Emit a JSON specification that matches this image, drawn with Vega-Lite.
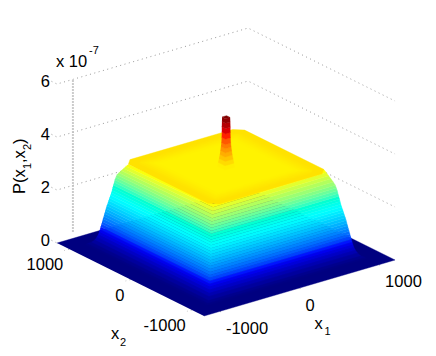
{"$schema":"https://vega.github.io/schema/vega-lite/v6.json","width":436,"height":356,"padding":0,"autosize":"none","background":"white","config":{"view":{"stroke":null}},
"datasets":{
"grid":[
{"l":"p6","P":6,"x1":-1200,"x2":1290},{"l":"p6","P":6,"x1":-1200,"x2":1200},{"l":"p6","P":6,"x1":1200,"x2":1200},{"l":"p6","P":6,"x1":1200,"x2":-1200},
{"l":"p4","P":4,"x1":-1200,"x2":1290},{"l":"p4","P":4,"x1":-1200,"x2":1200},{"l":"p4","P":4,"x1":1200,"x2":1200},{"l":"p4","P":4,"x1":1200,"x2":-1200},
{"l":"p2","P":2,"x1":-1200,"x2":1290},{"l":"p2","P":2,"x1":-1200,"x2":1200},{"l":"p2","P":2,"x1":1200,"x2":1200},{"l":"p2","P":2,"x1":1200,"x2":-1200},
{"l":"p0","P":0,"x1":-1200,"x2":1290},{"l":"p0","P":0,"x1":-1200,"x2":1200},
{"l":"a","P":0,"x1":-1200,"x2":1000},{"l":"a","P":0,"x1":-1260,"x2":1000},
{"l":"b","P":0,"x1":-1200,"x2":0},{"l":"b","P":0,"x1":-1260,"x2":0},
{"l":"c","P":0,"x1":-1200,"x2":-1000},{"l":"c","P":0,"x1":-1260,"x2":-1000},
{"l":"d","P":0,"x1":-1000,"x2":-1200},{"l":"d","P":0,"x1":-1000,"x2":-1260},
{"l":"e","P":0,"x1":0,"x2":-1200},{"l":"e","P":0,"x1":0,"x2":-1260},
{"l":"f","P":0,"x1":1000,"x2":-1200},{"l":"f","P":0,"x1":1000,"x2":-1260}],
"wall":[{"P":0.25,"x1":-1000,"x2":1200},{"P":6,"x1":-1000,"x2":1200}],
"surface":[
{"b":0,"P":0,"x1":-1200,"x2":1200},{"b":0,"P":0,"x1":1200,"x2":1200},{"b":0,"P":0,"x1":1200,"x2":-1200},{"b":0,"P":0,"x1":-1200,"x2":-1200},
{"b":0.02,"P":0,"x1":-1000,"x2":1000},{"b":0.02,"P":0,"x1":-1000,"x2":-1000},{"b":0.02,"P":0,"x1":1000,"x2":-1000},{"b":0.02,"P":0.05,"x1":985,"x2":-985},{"b":0.02,"P":0.05,"x1":-985,"x2":-985},{"b":0.02,"P":0.05,"x1":-985,"x2":985},
{"b":0.07,"P":0.05,"x1":-985,"x2":985},{"b":0.07,"P":0.05,"x1":-985,"x2":-985},{"b":0.07,"P":0.05,"x1":985,"x2":-985},{"b":0.07,"P":0.1,"x1":955,"x2":-955},{"b":0.07,"P":0.1,"x1":-955,"x2":-955},{"b":0.07,"P":0.1,"x1":-955,"x2":955},
{"b":0.15,"P":0.1,"x1":-955,"x2":955},{"b":0.15,"P":0.1,"x1":-955,"x2":-955},{"b":0.15,"P":0.1,"x1":955,"x2":-955},{"b":0.15,"P":0.2,"x1":932,"x2":-932},{"b":0.15,"P":0.2,"x1":-932,"x2":-932},{"b":0.15,"P":0.2,"x1":-932,"x2":932},
{"b":0.25,"P":0.2,"x1":-932,"x2":932},{"b":0.25,"P":0.2,"x1":-932,"x2":-932},{"b":0.25,"P":0.2,"x1":932,"x2":-932},{"b":0.25,"P":0.3,"x1":918,"x2":-918},{"b":0.25,"P":0.3,"x1":-918,"x2":-918},{"b":0.25,"P":0.3,"x1":-918,"x2":918},
{"b":0.35,"P":0.3,"x1":-918,"x2":918},{"b":0.35,"P":0.3,"x1":-918,"x2":-918},{"b":0.35,"P":0.3,"x1":918,"x2":-918},{"b":0.35,"P":0.4,"x1":908,"x2":-908},{"b":0.35,"P":0.4,"x1":-908,"x2":-908},{"b":0.35,"P":0.4,"x1":-908,"x2":908},
{"b":0.45,"P":0.4,"x1":-908,"x2":908},{"b":0.45,"P":0.4,"x1":-908,"x2":-908},{"b":0.45,"P":0.4,"x1":908,"x2":-908},{"b":0.45,"P":0.5,"x1":901,"x2":-901},{"b":0.45,"P":0.5,"x1":-901,"x2":-901},{"b":0.45,"P":0.5,"x1":-901,"x2":901},
{"b":0.55,"P":0.5,"x1":-901,"x2":901},{"b":0.55,"P":0.5,"x1":-901,"x2":-901},{"b":0.55,"P":0.5,"x1":901,"x2":-901},{"b":0.55,"P":0.6,"x1":895,"x2":-895},{"b":0.55,"P":0.6,"x1":-895,"x2":-895},{"b":0.55,"P":0.6,"x1":-895,"x2":895},
{"b":0.65,"P":0.6,"x1":-895,"x2":895},{"b":0.65,"P":0.6,"x1":-895,"x2":-895},{"b":0.65,"P":0.6,"x1":895,"x2":-895},{"b":0.65,"P":0.7,"x1":890,"x2":-890},{"b":0.65,"P":0.7,"x1":-890,"x2":-890},{"b":0.65,"P":0.7,"x1":-890,"x2":890},
{"b":0.75,"P":0.7,"x1":-890,"x2":890},{"b":0.75,"P":0.7,"x1":-890,"x2":-890},{"b":0.75,"P":0.7,"x1":890,"x2":-890},{"b":0.75,"P":0.8,"x1":884,"x2":-884},{"b":0.75,"P":0.8,"x1":-884,"x2":-884},{"b":0.75,"P":0.8,"x1":-884,"x2":884},
{"b":0.85,"P":0.8,"x1":-884,"x2":884},{"b":0.85,"P":0.8,"x1":-884,"x2":-884},{"b":0.85,"P":0.8,"x1":884,"x2":-884},{"b":0.85,"P":0.9,"x1":879,"x2":-879},{"b":0.85,"P":0.9,"x1":-879,"x2":-879},{"b":0.85,"P":0.9,"x1":-879,"x2":879},
{"b":0.95,"P":0.9,"x1":-879,"x2":879},{"b":0.95,"P":0.9,"x1":-879,"x2":-879},{"b":0.95,"P":0.9,"x1":879,"x2":-879},{"b":0.95,"P":1.0,"x1":874,"x2":-874},{"b":0.95,"P":1.0,"x1":-874,"x2":-874},{"b":0.95,"P":1.0,"x1":-874,"x2":874},
{"b":1.05,"P":1.0,"x1":-874,"x2":874},{"b":1.05,"P":1.0,"x1":-874,"x2":-874},{"b":1.05,"P":1.0,"x1":874,"x2":-874},{"b":1.05,"P":1.1,"x1":868,"x2":-868},{"b":1.05,"P":1.1,"x1":-868,"x2":-868},{"b":1.05,"P":1.1,"x1":-868,"x2":868},
{"b":1.15,"P":1.1,"x1":-868,"x2":868},{"b":1.15,"P":1.1,"x1":-868,"x2":-868},{"b":1.15,"P":1.1,"x1":868,"x2":-868},{"b":1.15,"P":1.2,"x1":863,"x2":-863},{"b":1.15,"P":1.2,"x1":-863,"x2":-863},{"b":1.15,"P":1.2,"x1":-863,"x2":863},
{"b":1.25,"P":1.2,"x1":-863,"x2":863},{"b":1.25,"P":1.2,"x1":-863,"x2":-863},{"b":1.25,"P":1.2,"x1":863,"x2":-863},{"b":1.25,"P":1.3,"x1":858,"x2":-858},{"b":1.25,"P":1.3,"x1":-858,"x2":-858},{"b":1.25,"P":1.3,"x1":-858,"x2":858},
{"b":1.35,"P":1.3,"x1":-858,"x2":858},{"b":1.35,"P":1.3,"x1":-858,"x2":-858},{"b":1.35,"P":1.3,"x1":858,"x2":-858},{"b":1.35,"P":1.4,"x1":853,"x2":-853},{"b":1.35,"P":1.4,"x1":-853,"x2":-853},{"b":1.35,"P":1.4,"x1":-853,"x2":853},
{"b":1.45,"P":1.4,"x1":-853,"x2":853},{"b":1.45,"P":1.4,"x1":-853,"x2":-853},{"b":1.45,"P":1.4,"x1":853,"x2":-853},{"b":1.45,"P":1.5,"x1":847,"x2":-847},{"b":1.45,"P":1.5,"x1":-847,"x2":-847},{"b":1.45,"P":1.5,"x1":-847,"x2":847},
{"b":1.55,"P":1.5,"x1":-847,"x2":847},{"b":1.55,"P":1.5,"x1":-847,"x2":-847},{"b":1.55,"P":1.5,"x1":847,"x2":-847},{"b":1.55,"P":1.6,"x1":840,"x2":-840},{"b":1.55,"P":1.6,"x1":-840,"x2":-840},{"b":1.55,"P":1.6,"x1":-840,"x2":840},
{"b":1.65,"P":1.6,"x1":-840,"x2":840},{"b":1.65,"P":1.6,"x1":-840,"x2":-840},{"b":1.65,"P":1.6,"x1":840,"x2":-840},{"b":1.65,"P":1.7,"x1":834,"x2":-834},{"b":1.65,"P":1.7,"x1":-834,"x2":-834},{"b":1.65,"P":1.7,"x1":-834,"x2":834},
{"b":1.75,"P":1.7,"x1":-834,"x2":834},{"b":1.75,"P":1.7,"x1":-834,"x2":-834},{"b":1.75,"P":1.7,"x1":834,"x2":-834},{"b":1.75,"P":1.8,"x1":828,"x2":-828},{"b":1.75,"P":1.8,"x1":-828,"x2":-828},{"b":1.75,"P":1.8,"x1":-828,"x2":828},
{"b":1.85,"P":1.8,"x1":-828,"x2":828},{"b":1.85,"P":1.8,"x1":-828,"x2":-828},{"b":1.85,"P":1.8,"x1":828,"x2":-828},{"b":1.85,"P":1.9,"x1":821,"x2":-821},{"b":1.85,"P":1.9,"x1":-821,"x2":-821},{"b":1.85,"P":1.9,"x1":-821,"x2":821},
{"b":1.95,"P":1.9,"x1":-821,"x2":821},{"b":1.95,"P":1.9,"x1":-821,"x2":-821},{"b":1.95,"P":1.9,"x1":821,"x2":-821},{"b":1.95,"P":2.0,"x1":815,"x2":-815},{"b":1.95,"P":2.0,"x1":-815,"x2":-815},{"b":1.95,"P":2.0,"x1":-815,"x2":815},
{"b":2.05,"P":2.0,"x1":-815,"x2":815},{"b":2.05,"P":2.0,"x1":-815,"x2":-815},{"b":2.05,"P":2.0,"x1":815,"x2":-815},{"b":2.05,"P":2.1,"x1":810,"x2":-810},{"b":2.05,"P":2.1,"x1":-810,"x2":-810},{"b":2.05,"P":2.1,"x1":-810,"x2":810},
{"b":2.15,"P":2.1,"x1":-810,"x2":810},{"b":2.15,"P":2.1,"x1":-810,"x2":-810},{"b":2.15,"P":2.1,"x1":810,"x2":-810},{"b":2.15,"P":2.2,"x1":805,"x2":-805},{"b":2.15,"P":2.2,"x1":-805,"x2":-805},{"b":2.15,"P":2.2,"x1":-805,"x2":805},
{"b":2.25,"P":2.2,"x1":-805,"x2":805},{"b":2.25,"P":2.2,"x1":-805,"x2":-805},{"b":2.25,"P":2.2,"x1":805,"x2":-805},{"b":2.25,"P":2.3,"x1":800,"x2":-800},{"b":2.25,"P":2.3,"x1":-800,"x2":-800},{"b":2.25,"P":2.3,"x1":-800,"x2":800},
{"b":2.35,"P":2.3,"x1":-800,"x2":800},{"b":2.35,"P":2.3,"x1":-800,"x2":-800},{"b":2.35,"P":2.3,"x1":800,"x2":-800},{"b":2.35,"P":2.4,"x1":795,"x2":-795},{"b":2.35,"P":2.4,"x1":-795,"x2":-795},{"b":2.35,"P":2.4,"x1":-795,"x2":795},
{"b":2.45,"P":2.4,"x1":-795,"x2":795},{"b":2.45,"P":2.4,"x1":-795,"x2":-795},{"b":2.45,"P":2.4,"x1":795,"x2":-795},{"b":2.45,"P":2.5,"x1":790,"x2":-790},{"b":2.45,"P":2.5,"x1":-790,"x2":-790},{"b":2.45,"P":2.5,"x1":-790,"x2":790},
{"b":2.55,"P":2.5,"x1":-790,"x2":790},{"b":2.55,"P":2.5,"x1":-790,"x2":-790},{"b":2.55,"P":2.5,"x1":790,"x2":-790},{"b":2.55,"P":2.6,"x1":785,"x2":-780},{"b":2.55,"P":2.6,"x1":-782,"x2":-782},{"b":2.55,"P":2.6,"x1":-785,"x2":780},
{"b":2.65,"P":2.6,"x1":-785,"x2":780},{"b":2.65,"P":2.6,"x1":-782,"x2":-782},{"b":2.65,"P":2.6,"x1":785,"x2":-780},{"b":2.65,"P":2.7,"x1":780,"x2":-770},{"b":2.65,"P":2.7,"x1":-775,"x2":-775},{"b":2.65,"P":2.7,"x1":-780,"x2":770},
{"b":2.75,"P":2.7,"x1":-780,"x2":770},{"b":2.75,"P":2.7,"x1":-775,"x2":-775},{"b":2.75,"P":2.7,"x1":780,"x2":-770},{"b":2.75,"P":2.8,"x1":772,"x2":-747},{"b":2.75,"P":2.8,"x1":-760,"x2":-760},{"b":2.75,"P":2.8,"x1":-772,"x2":747},
{"b":2.85,"P":2.8,"x1":-772,"x2":747},{"b":2.85,"P":2.8,"x1":-760,"x2":-760},{"b":2.85,"P":2.8,"x1":772,"x2":-747},{"b":2.85,"P":2.9,"x1":762,"x2":-722},{"b":2.85,"P":2.9,"x1":-742,"x2":-742},{"b":2.85,"P":2.9,"x1":-762,"x2":722},
{"b":2.95,"P":2.9,"x1":-762,"x2":722},{"b":2.95,"P":2.9,"x1":-742,"x2":-742},{"b":2.95,"P":2.9,"x1":762,"x2":-722},{"b":2.95,"P":3.0,"x1":752,"x2":-697},{"b":2.95,"P":3.0,"x1":-725,"x2":-725},{"b":2.95,"P":3.0,"x1":-752,"x2":697},
{"b":3.05,"P":3.0,"x1":-752,"x2":697},{"b":3.05,"P":3.0,"x1":-725,"x2":-725},{"b":3.05,"P":3.0,"x1":752,"x2":-697},{"b":3.05,"P":3.1,"x1":742,"x2":-672},{"b":3.05,"P":3.1,"x1":-707,"x2":-707},{"b":3.05,"P":3.1,"x1":-742,"x2":672},
{"b":3.15,"P":3.1,"x1":-742,"x2":672},{"b":3.15,"P":3.1,"x1":-707,"x2":-707},{"b":3.15,"P":3.1,"x1":742,"x2":-672},{"b":3.15,"P":3.2,"x1":730,"x2":-645},{"b":3.15,"P":3.2,"x1":-688,"x2":-688},{"b":3.15,"P":3.2,"x1":-730,"x2":645},
{"b":3.37,"P":3.2,"x1":-730,"x2":645},{"b":3.37,"P":3.2,"x1":-645,"x2":730},{"b":3.37,"P":3.2,"x1":645,"x2":730},{"b":3.37,"P":3.2,"x1":730,"x2":645},{"b":3.37,"P":3.2,"x1":730,"x2":-645},{"b":3.37,"P":3.2,"x1":645,"x2":-730},{"b":3.37,"P":3.2,"x1":-645,"x2":-730},{"b":3.37,"P":3.2,"x1":-730,"x2":-645},
{"b":3.35,"P":3.2,"x1":-640,"x2":580},{"b":3.35,"P":3.2,"x1":-580,"x2":640},{"b":3.35,"P":3.2,"x1":580,"x2":640},{"b":3.35,"P":3.2,"x1":640,"x2":580},{"b":3.35,"P":3.2,"x1":640,"x2":-580},{"b":3.35,"P":3.2,"x1":580,"x2":-640},{"b":3.35,"P":3.2,"x1":-580,"x2":-640},{"b":3.35,"P":3.2,"x1":-640,"x2":-580},
{"b":3.33,"P":3.2,"x1":-610,"x2":610},{"b":3.33,"P":3.2,"x1":610,"x2":610},{"b":3.33,"P":3.2,"x1":610,"x2":-610},{"b":3.33,"P":3.2,"x1":-610,"x2":-610},
{"b":3.31,"P":3.2,"x1":-580,"x2":580},{"b":3.31,"P":3.2,"x1":580,"x2":580},{"b":3.31,"P":3.2,"x1":580,"x2":-580},{"b":3.31,"P":3.2,"x1":-580,"x2":-580},
{"b":3.29,"P":3.2,"x1":-550,"x2":550},{"b":3.29,"P":3.2,"x1":550,"x2":550},{"b":3.29,"P":3.2,"x1":550,"x2":-550},{"b":3.29,"P":3.2,"x1":-550,"x2":-550},
{"b":3.27,"P":3.2,"x1":-520,"x2":520},{"b":3.27,"P":3.2,"x1":520,"x2":520},{"b":3.27,"P":3.2,"x1":520,"x2":-520},{"b":3.27,"P":3.2,"x1":-520,"x2":-520},
{"b":3.255,"P":3.2,"x1":-480,"x2":480},{"b":3.255,"P":3.2,"x1":480,"x2":480},{"b":3.255,"P":3.2,"x1":480,"x2":-480},{"b":3.255,"P":3.2,"x1":-480,"x2":-480},
{"b":3.28,"P":3.2,"x1":-62,"x2":62},{"b":3.28,"P":3.2,"x1":-62,"x2":-62},{"b":3.28,"P":3.2,"x1":62,"x2":-62},{"b":3.28,"P":3.35,"x1":56,"x2":-56},{"b":3.28,"P":3.35,"x1":-56,"x2":-56},{"b":3.28,"P":3.35,"x1":-56,"x2":56},
{"b":3.42,"P":3.35,"x1":-56,"x2":56},{"b":3.42,"P":3.35,"x1":-56,"x2":-56},{"b":3.42,"P":3.35,"x1":56,"x2":-56},{"b":3.42,"P":3.5,"x1":50,"x2":-50},{"b":3.42,"P":3.5,"x1":-50,"x2":-50},{"b":3.42,"P":3.5,"x1":-50,"x2":50},
{"b":3.57,"P":3.5,"x1":-50,"x2":50},{"b":3.57,"P":3.5,"x1":-50,"x2":-50},{"b":3.57,"P":3.5,"x1":50,"x2":-50},{"b":3.57,"P":3.65,"x1":44,"x2":-44},{"b":3.57,"P":3.65,"x1":-44,"x2":-44},{"b":3.57,"P":3.65,"x1":-44,"x2":44},
{"b":3.72,"P":3.65,"x1":-44,"x2":44},{"b":3.72,"P":3.65,"x1":-44,"x2":-44},{"b":3.72,"P":3.65,"x1":44,"x2":-44},{"b":3.72,"P":3.8,"x1":40,"x2":-40},{"b":3.72,"P":3.8,"x1":-40,"x2":-40},{"b":3.72,"P":3.8,"x1":-40,"x2":40},
{"b":3.87,"P":3.8,"x1":-40,"x2":40},{"b":3.87,"P":3.8,"x1":-40,"x2":-40},{"b":3.87,"P":3.8,"x1":40,"x2":-40},{"b":3.87,"P":3.95,"x1":36,"x2":-36},{"b":3.87,"P":3.95,"x1":-36,"x2":-36},{"b":3.87,"P":3.95,"x1":-36,"x2":36},
{"b":4.02,"P":3.95,"x1":-36,"x2":36},{"b":4.02,"P":3.95,"x1":-36,"x2":-36},{"b":4.02,"P":3.95,"x1":36,"x2":-36},{"b":4.02,"P":4.1,"x1":33,"x2":-33},{"b":4.02,"P":4.1,"x1":-33,"x2":-33},{"b":4.02,"P":4.1,"x1":-33,"x2":33},
{"b":4.2,"P":4.1,"x1":-33,"x2":33},{"b":4.2,"P":4.1,"x1":-33,"x2":-33},{"b":4.2,"P":4.1,"x1":33,"x2":-33},{"b":4.2,"P":4.3,"x1":31,"x2":-31},{"b":4.2,"P":4.3,"x1":-31,"x2":-31},{"b":4.2,"P":4.3,"x1":-31,"x2":31},
{"b":4.4,"P":4.3,"x1":-31,"x2":31},{"b":4.4,"P":4.3,"x1":-31,"x2":-31},{"b":4.4,"P":4.3,"x1":31,"x2":-31},{"b":4.4,"P":4.5,"x1":30,"x2":-30},{"b":4.4,"P":4.5,"x1":-30,"x2":-30},{"b":4.4,"P":4.5,"x1":-30,"x2":30},
{"b":4.6,"P":4.5,"x1":-30,"x2":30},{"b":4.6,"P":4.5,"x1":-30,"x2":-30},{"b":4.6,"P":4.5,"x1":30,"x2":-30},{"b":4.6,"P":4.7,"x1":30,"x2":-30},{"b":4.6,"P":4.7,"x1":-30,"x2":-30},{"b":4.6,"P":4.7,"x1":-30,"x2":30},
{"b":4.8,"P":4.7,"x1":-30,"x2":30},{"b":4.8,"P":4.7,"x1":-30,"x2":-30},{"b":4.8,"P":4.7,"x1":30,"x2":-30},{"b":4.8,"P":4.9,"x1":29,"x2":-29},{"b":4.8,"P":4.9,"x1":-29,"x2":-29},{"b":4.8,"P":4.9,"x1":-29,"x2":29},
{"b":4.98,"P":4.9,"x1":-29,"x2":29},{"b":4.98,"P":4.9,"x1":-29,"x2":-29},{"b":4.98,"P":4.9,"x1":29,"x2":-29},{"b":4.98,"P":5.07,"x1":28,"x2":-28},{"b":4.98,"P":5.07,"x1":-28,"x2":-28},{"b":4.98,"P":5.07,"x1":-28,"x2":28},
{"b":5.07,"P":5.07,"x1":-28,"x2":28},{"b":5.07,"P":5.07,"x1":28,"x2":28},{"b":5.07,"P":5.07,"x1":28,"x2":-28},{"b":5.07,"P":5.07,"x1":-28,"x2":-28}],
"labels":[
{"g":"z","t":"6","P":6,"x1":-1200,"x2":1200},{"g":"z","t":"4","P":4,"x1":-1200,"x2":1200},{"g":"z","t":"2","P":2,"x1":-1200,"x2":1200},{"g":"z","t":"0","P":0,"x1":-1200,"x2":1200},
{"g":"b","t":"1000","P":0,"x1":-1200,"x2":1000},{"g":"b","t":"0","P":0,"x1":-1200,"x2":0},{"g":"b","t":"-1000","P":0,"x1":-1200,"x2":-1000},
{"g":"a","t":"-1000","P":0,"x1":-1000,"x2":-1200},{"g":"a","t":"0","P":0,"x1":0,"x2":-1200},{"g":"a","t":"1000","P":0,"x1":1000,"x2":-1200},
{"g":"e","t":"x 10","P":6,"x1":-1200,"x2":1200},{"g":"f","t":"-7","P":6,"x1":-1200,"x2":1200},
{"g":"t1","t":"x","P":0,"x1":0,"x2":-1200},{"g":"s1","t":"1","P":0,"x1":0,"x2":-1200},
{"g":"t2","t":"x","P":0,"x1":-1200,"x2":0},{"g":"s2","t":"2","P":0,"x1":-1200,"x2":0},
{"g":"v","t":"P(x","P":2,"x1":-1200,"x2":1200},{"g":"w","t":"1","P":2,"x1":-1200,"x2":1200},{"g":"u","t":",x","P":2,"x1":-1200,"x2":1200},{"g":"y","t":"2","P":2,"x1":-1200,"x2":1200},{"g":"q","t":")","P":2,"x1":-1200,"x2":1200}]
},
"encoding":{"x":{"field":"sx","type":"quantitative","axis":null,"scale":{"domain":[0,436],"nice":false,"zero":false}},"y":{"field":"sy","type":"quantitative","axis":null,"scale":{"domain":[356,0],"nice":false,"zero":false}}},
"layer":[
{"data":{"name":"grid"},"transform":[{"calculate":"204+0.0796*(datum.x1+1200)-0.06125*(datum.x2+1200)","as":"sx"},{"calculate":"316-0.02333*(datum.x1+1200)-0.0304*(datum.x2+1200)-26.5*datum.P","as":"sy"}],"mark":{"type":"line","stroke":"#999999","strokeWidth":1,"strokeDash":[1,3.5]},"encoding":{"detail":{"field":"l"},"order":{"value":null}}},
{"data":{"name":"wall"},"transform":[{"calculate":"204+0.0796*(datum.x1+1200)-0.06125*(datum.x2+1200)","as":"sx"},{"calculate":"316-0.02333*(datum.x1+1200)-0.0304*(datum.x2+1200)-26.5*datum.P","as":"sy"}],"mark":{"type":"line","stroke":"#bbbbbb","strokeWidth":2,"strokeDash":[1.5,1.5]},"encoding":{"order":{"value":null}}},
{"data":{"name":"surface"},"transform":[{"calculate":"204+0.0796*(datum.x1+1200)-0.06125*(datum.x2+1200)","as":"sx"},{"calculate":"316-0.02333*(datum.x1+1200)-0.0304*(datum.x2+1200)-26.5*datum.P","as":"sy"}],"mark":{"type":"line","filled":true,"strokeWidth":0.4},"encoding":{"detail":{"field":"b"},"order":{"value":null},"fill":{"field":"b","type":"quantitative","legend":null,"scale":{"domain":[0,0.634,1.9,3.17,4.44,5.07],"range":["#000080","#0000ff","#00ffff","#ffff00","#ff0000","#800000"]}},"stroke":{"field":"b","type":"quantitative","legend":null,"scale":{"domain":[0,0.634,1.9,3.17,4.44,5.07],"range":["#000080","#0000ff","#00ffff","#ffff00","#ff0000","#800000"]}}}},
{"data":{"name":"labels"},"transform":[{"calculate":"204+0.0796*(datum.x1+1200)-0.06125*(datum.x2+1200)","as":"sx"},{"calculate":"316-0.02333*(datum.x1+1200)-0.0304*(datum.x2+1200)-26.5*datum.P","as":"sy"}],
"encoding":{"text":{"field":"t"}},
"layer":[
{"transform":[{"filter":"datum.g=='z'"}],"mark":{"type":"text","font":"Liberation Sans","fontSize":16.5,"align":"right","baseline":"middle","dx":-7,"dy":-2,"fill":"#000"}},
{"transform":[{"filter":"datum.g=='b'"}],"mark":{"type":"text","font":"Liberation Sans","fontSize":16.5,"align":"right","baseline":"middle","dx":-6,"dy":16,"fill":"#000"}},
{"transform":[{"filter":"datum.g=='a'"}],"mark":{"type":"text","font":"Liberation Sans","fontSize":16.5,"align":"left","baseline":"middle","dx":6,"dy":17.5,"fill":"#000"}},
{"transform":[{"filter":"datum.g=='e'"}],"mark":{"type":"text","font":"Liberation Sans","fontSize":16.5,"align":"left","baseline":"middle","dx":-1,"dy":-22,"fill":"#000"}},
{"transform":[{"filter":"datum.g=='f'"}],"mark":{"type":"text","font":"Liberation Sans","fontSize":11,"align":"left","baseline":"middle","dx":32,"dy":-33,"fill":"#000"}},
{"transform":[{"filter":"datum.g=='t1'"}],"mark":{"type":"text","font":"Liberation Sans","fontSize":16.5,"align":"center","baseline":"middle","dx":19,"dy":36,"fill":"#000"}},
{"transform":[{"filter":"datum.g=='s1'"}],"mark":{"type":"text","font":"Liberation Sans","fontSize":11,"align":"center","baseline":"middle","dx":28,"dy":44,"fill":"#000"}},
{"transform":[{"filter":"datum.g=='t2'"}],"mark":{"type":"text","font":"Liberation Sans","fontSize":16.5,"align":"center","baseline":"middle","dx":-15.5,"dy":54,"fill":"#000"}},
{"transform":[{"filter":"datum.g=='s2'"}],"mark":{"type":"text","font":"Liberation Sans","fontSize":11,"align":"center","baseline":"middle","dx":-7.5,"dy":63,"fill":"#000"}},
{"transform":[{"filter":"datum.g=='v'"}],"mark":{"type":"text","font":"Liberation Sans","fontSize":16.5,"angle":270,"align":"left","baseline":"middle","dx":-4,"dy":-37.5,"fill":"#000"}},
{"transform":[{"filter":"datum.g=='w'"}],"mark":{"type":"text","font":"Liberation Sans","fontSize":11,"angle":270,"align":"left","baseline":"middle","dx":21,"dy":-29,"fill":"#000"}},
{"transform":[{"filter":"datum.g=='u'"}],"mark":{"type":"text","font":"Liberation Sans","fontSize":16.5,"angle":270,"align":"left","baseline":"middle","dx":27,"dy":-37.5,"fill":"#000"}},
{"transform":[{"filter":"datum.g=='y'"}],"mark":{"type":"text","font":"Liberation Sans","fontSize":11,"angle":270,"align":"left","baseline":"middle","dx":40,"dy":-29,"fill":"#000"}},
{"transform":[{"filter":"datum.g=='q'"}],"mark":{"type":"text","font":"Liberation Sans","fontSize":16.5,"angle":270,"align":"left","baseline":"middle","dx":46,"dy":-37.5,"fill":"#000"}}
]}
]}
